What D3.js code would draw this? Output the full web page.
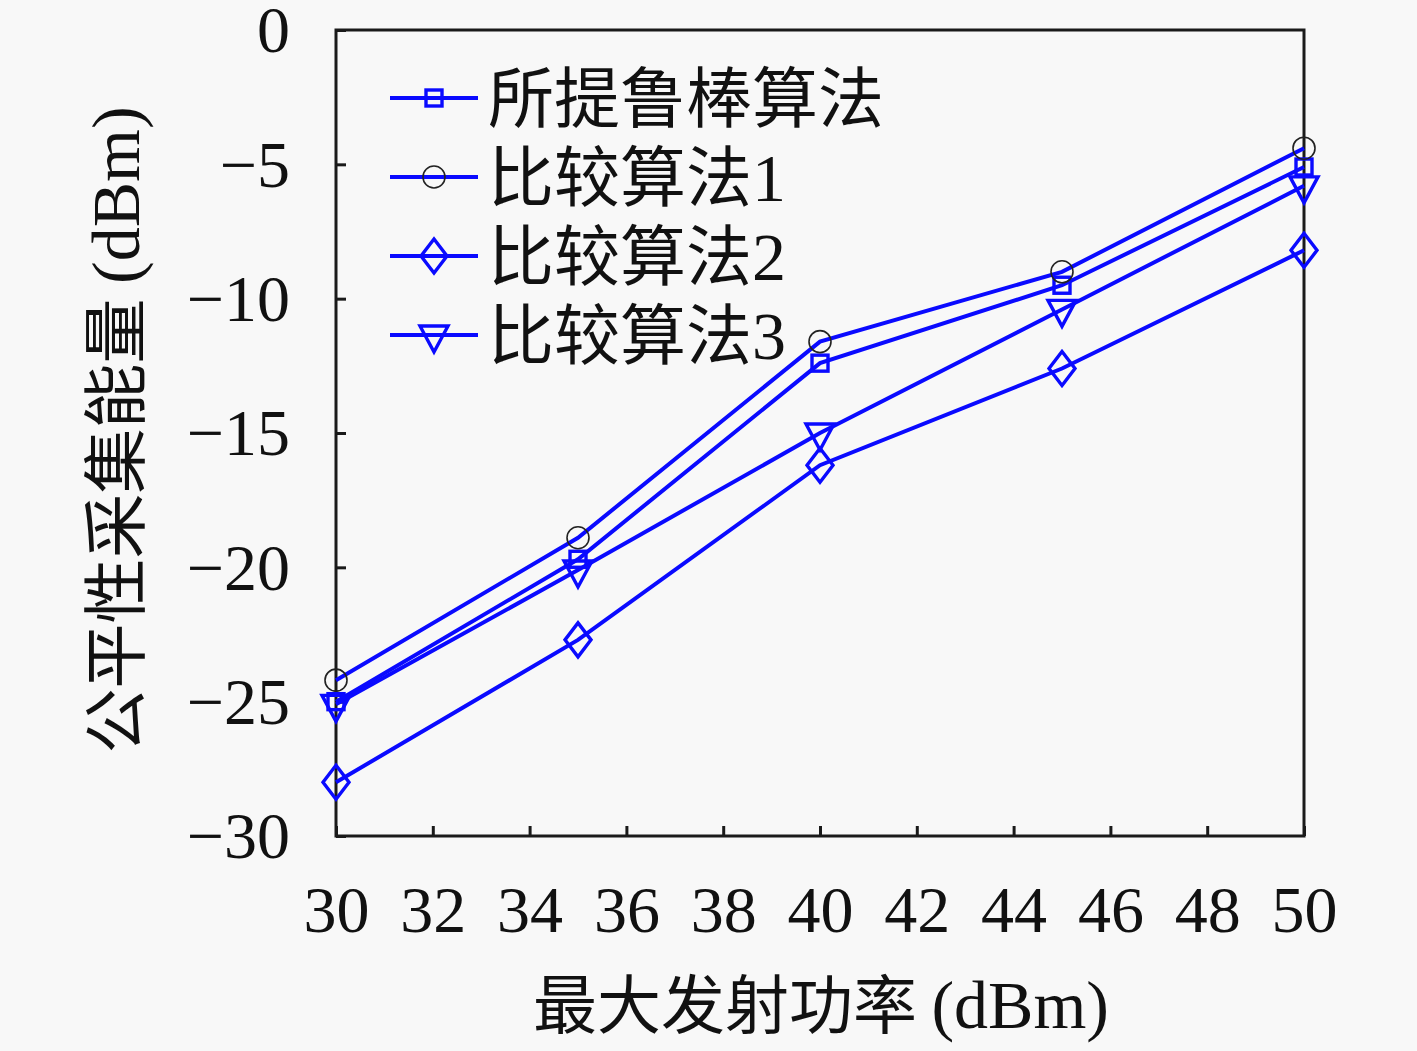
<!DOCTYPE html>
<html>
<head>
<meta charset="utf-8">
<script src="https://cdn.jsdelivr.net/npm/d3@7"></script>
<style>
  html, body { margin: 0; padding: 0; background: #f8f8f8; }
  svg { display: block; }
</style>
</head>
<body>
<svg id="chart"></svg>
<script>
// x 轴：最大发射功率
var powers = [30, 35, 40, 45, 50];
var xTicks = [30, 32, 34, 36, 38, 40, 42, 44, 46, 48, 50];
var yTicks = [0, -5, -10, -15, -20, -25, -30];

// 各算法的数值 (dBm)
var proposed = [-25.0, -19.7, -12.4, -9.5, -5.1];
var compare1 = [-24.2, -18.9, -11.6, -9.0, -4.4];
var compare2 = [-28.0, -22.7, -16.2, -12.6, -8.2];
var compare3 = [-25.1, -20.1, -15.0, -10.4, -5.8];

var seriesNames = ['所提鲁棒算法', '比较算法1', '比较算法2', '比较算法3'];
var seriesMarkers = ['square', 'circle', 'diamond', 'triangle'];

var series = [proposed, compare1, compare2, compare3].map(function(vals, i) {
  return {
    name: seriesNames[i],
    marker: seriesMarkers[i],
    points: vals.map(function(v, j) { return {x: powers[j], y: v}; })
  };
});

var W = 1417, H = 1051;
var margin = {top: 30, right: 113, bottom: 215, left: 336};
var width = W - margin.left - margin.right;
var height = H - margin.top - margin.bottom;

var numFont = '"Liberation Serif", "DejaVu Serif", serif';
var cjkFont = '"Noto Sans CJK SC", sans-serif';
var blue = '#0a0aff';

var root = d3.select('#chart').attr('width', W).attr('height', H);
var svg = root.append('g')
  .attr('transform', 'translate(' + margin.left + ',' + margin.top + ')');

var x = d3.scaleLinear().domain([30, 50]).range([0, width]);
var y = d3.scaleLinear().domain([-30, 0]).range([height, 0]);

// 坐标框
svg.append('rect')
  .attr('x', 0).attr('y', 0)
  .attr('width', width).attr('height', height)
  .attr('fill', 'none').attr('stroke', '#1a1a1a').attr('stroke-width', 3);

// 刻度（向内）
var xAxis = d3.axisBottom(x).tickValues(xTicks).tickSize(-10).tickPadding(74)
  .tickFormat(d3.format('d'));
var yAxis = d3.axisLeft(y).tickValues(yTicks).tickSize(-10).tickPadding(46)
  .tickFormat(function(d) { return d < 0 ? '\u2212' + Math.abs(d) : String(d); });

var gx = svg.append('g').attr('transform', 'translate(0,' + height + ')').call(xAxis);
var gy = svg.append('g').call(yAxis);

[gx, gy].forEach(function(g) {
  g.select('.domain').remove();
  g.selectAll('.tick line').attr('stroke', '#1a1a1a').attr('stroke-width', 3);
  g.selectAll('.tick text')
    .attr('fill', '#111')
    .attr('dy', '0.33em')
    .style('font-family', numFont)
    .style('font-size', '66px');
});

// 折线
var line = d3.line().x(function(d) { return x(d.x); }).y(function(d) { return y(d.y); });

svg.selectAll('.series-line')
  .data(series)
  .enter().append('path')
  .attr('class', 'series-line')
  .attr('d', function(d) { return line(d.points); })
  .attr('fill', 'none')
  .attr('stroke', blue)
  .attr('stroke-width', 4);

// 标记
function drawMarker(g, type, cx, cy) {
  if (type === 'square') {
    g.append('rect')
      .attr('x', cx - 8).attr('y', cy - 8).attr('width', 16).attr('height', 16)
      .attr('fill', 'none').attr('stroke', blue).attr('stroke-width', 3.4);
  } else if (type === 'circle') {
    g.append('circle')
      .attr('cx', cx).attr('cy', cy).attr('r', 11)
      .attr('fill', 'none').attr('stroke', '#222').attr('stroke-width', 1.6);
  } else if (type === 'diamond') {
    g.append('path')
      .attr('d', 'M' + cx + ',' + (cy - 17) + 'L' + (cx + 13) + ',' + cy +
        'L' + cx + ',' + (cy + 17) + 'L' + (cx - 13) + ',' + cy + 'Z')
      .attr('fill', 'none').attr('stroke', blue).attr('stroke-width', 3.4);
  } else {
    g.append('path')
      .attr('d', 'M' + (cx - 14) + ',' + (cy - 9) + 'L' + (cx + 14) + ',' + (cy - 9) +
        'L' + cx + ',' + (cy + 17) + 'Z')
      .attr('fill', 'none').attr('stroke', blue).attr('stroke-width', 3.4);
  }
}

series.forEach(function(s) {
  var g = svg.append('g');
  s.points.forEach(function(p) { drawMarker(g, s.marker, x(p.x), y(p.y)); });
});

// 图例
var legend = svg.append('g').attr('transform', 'translate(54,68)');
series.forEach(function(s, i) {
  var ly = i * 79;
  var lg = legend.append('g').attr('transform', 'translate(0,' + ly + ')');
  lg.append('line')
    .attr('x1', 0).attr('x2', 88).attr('y1', 0).attr('y2', 0)
    .attr('stroke', blue).attr('stroke-width', 4);
  drawMarker(lg, s.marker, 44, 0);
  lg.append('text')
    .attr('x', 98).attr('y', 0).attr('dy', '0.36em')
    .attr('fill', '#111')
    .style('font-family', cjkFont)
    .style('font-size', '66px')
    .text(s.name.replace(/\d$/, ''))
    .append('tspan')
    .style('font-family', numFont)
    .style('font-size', '68px')
    .text((s.name.match(/\d$/) || [''])[0]);
});

// 轴标题
root.append('text')
  .attr('x', margin.left + width / 2 + 1)
  .attr('y', 1028)
  .attr('text-anchor', 'middle')
  .attr('fill', '#111')
  .style('font-family', cjkFont)
  .style('font-size', '64px')
  .text('最大发射功率 ')
  .append('tspan').style('font-family', numFont).style('font-size', '68px').text('(dBm)');

root.append('text')
  .attr('transform', 'translate(139,430) rotate(-90)')
  .attr('text-anchor', 'middle')
  .attr('fill', '#111')
  .style('font-family', cjkFont)
  .style('font-size', '65px')
  .text('公平性采集能量 ')
  .append('tspan').style('font-family', numFont).style('font-size', '68px').text('(dBm)');
</script>
</body>
</html>
